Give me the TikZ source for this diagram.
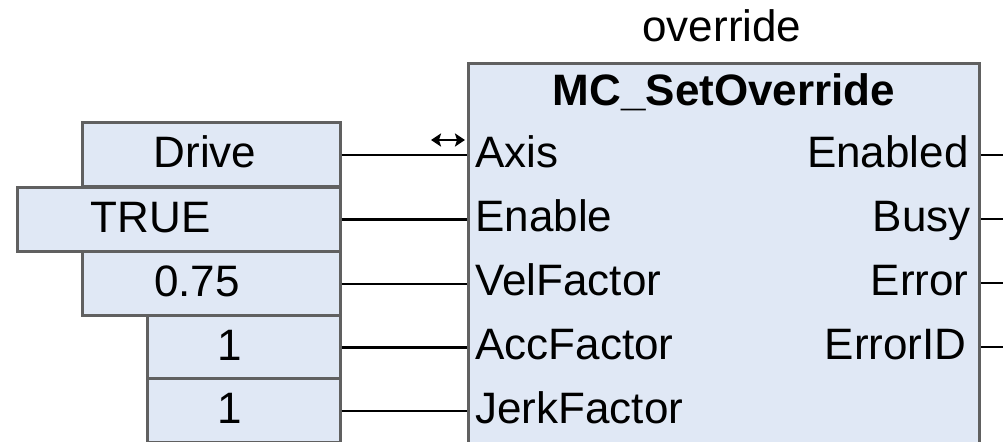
\documentclass[tikz,border=0pt]{standalone}
\usepackage{fontspec}
\setmainfont{Liberation Sans}
\usetikzlibrary{arrows.meta}
\definecolor{fbfill}{HTML}{E0E8F5}
\definecolor{fbline}{HTML}{606060}

\begin{document}
\begin{tikzpicture}[x=0.5pt,y=-0.5pt,
  every node/.style={font=\fontsize{22}{26}\selectfont, inner sep=0pt, text height=16pt, text depth=3pt},
  constbox/.style={draw=fbline, fill=fbfill, line width=1.5pt, minimum height=32pt},
  fbblock/.style={draw=fbline, fill=fbfill, line width=1.5pt},
  wire/.style={line width=1.4pt}]
\useasboundingbox (0,0) rectangle (1003,442);
\clip (0,0) rectangle (1003,442);
\coordinate (outR) at (1003,0);
% function block
\node[fbblock, anchor=north west, minimum width=255.5pt, minimum height=210pt] (fb) at (467,62) {};
\node (inst) at (722,29) {override};
\node (fbname) at (724,93) {\textbf{MC\_SetOverride}};
% inputs
\node[anchor=west] (axis) at (475,155) {Axis};
\node[anchor=west] (enable) at (475,219) {Enable};
\node[anchor=west] (velf) at (475,283) {VelFactor};
\node[anchor=west] (accf) at (475,347) {AccFactor};
\node[anchor=west] (jerkf) at (475,411) {JerkFactor};
% outputs
\node[anchor=east] (enabled) at (969,155) {Enabled};
\node[anchor=east] (busy) at (971,219) {Busy};
\node[anchor=east] (error) at (969,283) {Error};
\node[anchor=east] (errid) at (967,347) {ErrorID};
% constants
\node[constbox, minimum width=129pt] (drive) at (211,155) {Drive\rule{6pt}{0pt}};
\node[constbox, minimum width=161.5pt] (true) at (178.5,219.5) {TRUE\rule{28pt}{0pt}};
\node[constbox, minimum width=129pt] (vel) at (211,284) {0.75\rule{14pt}{0pt}};
\node[constbox, minimum width=96.5pt] (acc) at (243.5,347.5) {1\rule{14pt}{0pt}};
\node[constbox, minimum width=96.5pt] (jerk) at (243.5,411) {1\rule{14pt}{0pt}};
% wires in
\draw[wire] (drive.east) -- (drive.east -| fb.west);
\draw[wire] (true.east) -- (true.east -| fb.west);
\draw[wire] (vel.east) -- (vel.east -| fb.west);
\draw[wire] (acc.east) -- (acc.east -| fb.west);
\draw[wire] (jerk.east) -- (jerk.east -| fb.west);
\draw[line width=1.3pt, {Stealth[length=5pt,width=6.5pt,inset=1pt]}-{Stealth[length=5pt,width=6.5pt,inset=1pt]}] (431,140) -- (465,140);
% wires out
\draw[wire] (enabled.east -| fb.east) -- (enabled.east -| outR);
\draw[wire] (busy.east -| fb.east) -- (busy.east -| outR);
\draw[wire] (error.east -| fb.east) -- (error.east -| outR);
\draw[wire] (errid.east -| fb.east) -- (errid.east -| outR);
\end{tikzpicture}
\end{document}
